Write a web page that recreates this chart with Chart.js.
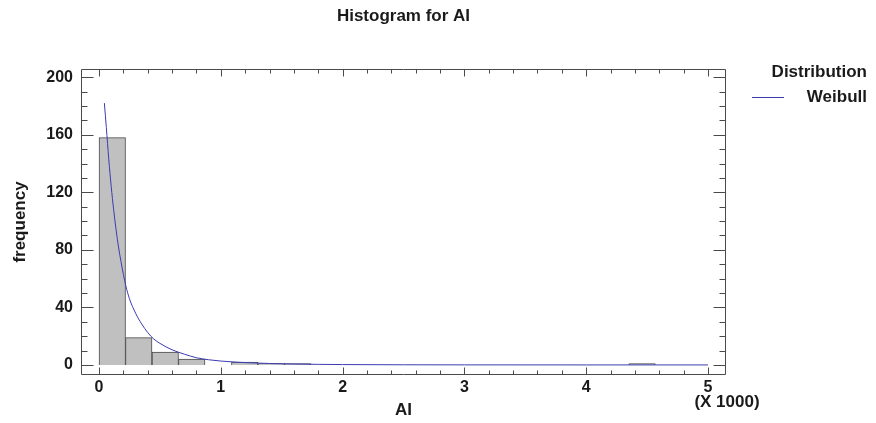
<!DOCTYPE html>
<html>
<head>
<meta charset="utf-8">
<script src="https://cdn.jsdelivr.net/npm/chart.js@4.4.1/dist/chart.umd.min.js"></script>
<style>
  body { margin: 0; background: #fff; }
  canvas { display: block; }
</style>
</head>
<body>
<canvas id="histChart" width="876" height="423"></canvas>
<script>
// AI is plotted in thousands, the axis carries the (X 1000) note
const binWidth = 0.2175;
const binLow = [0, 0.2175, 0.435, 0.6525, 1.0875, 1.305, 1.5225, 4.35];
const binCount = [158, 19, 9, 4, 2, 1, 1, 1];

// fitted Weibull, read as expected frequency per bin
const weibullX = [0.044, 0.06, 0.08, 0.1, 0.12, 0.14, 0.16, 0.18, 0.2, 0.22, 0.25, 0.3, 0.35, 0.4, 0.45, 0.5, 0.6, 0.7, 0.8, 0.9, 1.0, 1.2, 1.4, 1.6, 1.8, 2.0, 2.5, 3.0, 4.0, 5.0];
const weibullY = [182, 165, 143, 124, 108, 94, 82, 72, 63, 55, 46, 36, 28.5, 22.5, 18, 15, 10.5, 7.5, 5, 3.6, 2.7, 1.6, 1.0, 0.6, 0.4, 0.25, 0.1, 0.04, 0.01, 0];

const xTicks = [0, 1, 2, 3, 4, 5];
const yTicks = [0, 40, 80, 120, 160, 200];

const FONT = "'Liberation Sans', Arial, sans-serif";
const textColor = "#1a1a1a";
const frameColor = "#4a4a4a";
const curveColor = "#3b3bb0";

// box around the plot plus the inward major/minor ticks on all four sides,
// the title over the plot, the scale note and the legend
const frameAndTicks = {
    id: "frameAndTicks",
    afterDraw(chart) {
        const { ctx, chartArea: a, scales } = chart;
        const xs = scales.x;
        const ys = scales.y;
        const L = Math.round(a.left) + 0.5;
        const R = Math.round(a.right) - 0.5;
        const T = Math.round(a.top) + 0.5;
        const B = Math.round(a.bottom) - 0.5;

        ctx.save();
        ctx.strokeStyle = frameColor;
        ctx.lineWidth = 1;
        ctx.beginPath();
        ctx.rect(L, T, R - L, B - T);

        for (let v = 0; v <= 200; v += 10) {
            const y = Math.round(ys.getPixelForValue(v)) + 0.5;
            const len = v % 40 === 0 ? 12 : 6;
            ctx.moveTo(L, y);
            ctx.lineTo(L + len, y);
            ctx.moveTo(R, y);
            ctx.lineTo(R - len, y);
        }
        for (let i = 0; i <= 25; i++) {
            const x = Math.round(xs.getPixelForValue(i * 0.2)) + 0.5;
            const len = i % 5 === 0 ? 7 : 4;
            ctx.moveTo(x, B);
            ctx.lineTo(x, B - len);
            ctx.moveTo(x, T);
            ctx.lineTo(x, T + len);
        }
        ctx.stroke();

        ctx.fillStyle = textColor;
        ctx.font = "bold 17px " + FONT;
        ctx.textAlign = "center";
        ctx.textBaseline = "middle";
        ctx.fillText("Histogram for AI", (a.left + a.right) / 2, 16);
        ctx.fillText("(X 1000)", 727, 402);

        // legend
        ctx.textAlign = "right";
        ctx.textBaseline = "alphabetic";
        ctx.fillText("Distribution", 867, 77);
        ctx.fillText("Weibull", 867, 102);
        ctx.strokeStyle = curveColor;
        ctx.beginPath();
        ctx.moveTo(752, 97.5);
        ctx.lineTo(784, 97.5);
        ctx.stroke();
        ctx.restore();
    },
};

const barData = binLow.map((low, i) => ({ x: low + binWidth / 2, y: binCount[i] }));
const curveData = weibullX.map((x, i) => ({ x: x, y: weibullY[i] }));

new Chart(document.getElementById("histChart"), {
    type: "bar",
    data: {
        datasets: [
            {
                type: "line",
                label: "Weibull",
                data: curveData,
                borderColor: curveColor,
                borderWidth: 1,
                pointRadius: 0,
                cubicInterpolationMode: "monotone",
                order: 0,
            },
            {
                type: "bar",
                label: "AI",
                data: barData,
                backgroundColor: "#c0c0c0",
                borderColor: frameColor,
                borderWidth: 1,
                barPercentage: 1,
                categoryPercentage: 1,
                order: 1,
            },
        ],
    },
    options: {
        responsive: false,
        animation: false,
        devicePixelRatio: 1,
        layout: { padding: { top: 69, left: 0, right: 150, bottom: 0 } },
        plugins: {
            legend: { display: false },
            tooltip: { enabled: false },
            title: { display: false },
        },
        scales: {
            x: {
                type: "linear",
                offset: false,
                min: -0.148,
                max: 5.148,
                grid: { display: false, drawTicks: false },
                border: { display: false },
                afterBuildTicks: (s) => {
                    s.ticks = xTicks.map((v) => ({ value: v }));
                },
                afterFit: (s) => {
                    s.height = 48;
                },
                ticks: {
                    color: textColor,
                    padding: 3,
                    maxRotation: 0,
                    font: { family: FONT, size: 16, weight: "bold" },
                },
                title: {
                    display: true,
                    text: "AI",
                    color: textColor,
                    font: { family: FONT, size: 17, weight: "bold", lineHeight: 1.2 },
                    padding: { top: 0, bottom: 2.8 },
                },
            },
            y: {
                min: -7,
                max: 205.7,
                grid: { display: false, drawTicks: false },
                border: { display: false },
                afterBuildTicks: (s) => {
                    s.ticks = yTicks.map((v) => ({ value: v }));
                },
                afterFit: (s) => {
                    s.width = 81;
                },
                ticks: {
                    color: textColor,
                    padding: 8,
                    font: { family: FONT, size: 16, weight: "bold" },
                },
                title: {
                    display: true,
                    text: "frequency",
                    color: textColor,
                    font: { family: FONT, size: 17, weight: "bold", lineHeight: 1.2 },
                    padding: { top: 10.3, bottom: 0 },
                },
            },
        },
    },
    plugins: [frameAndTicks],
});
</script>
</body>
</html>
